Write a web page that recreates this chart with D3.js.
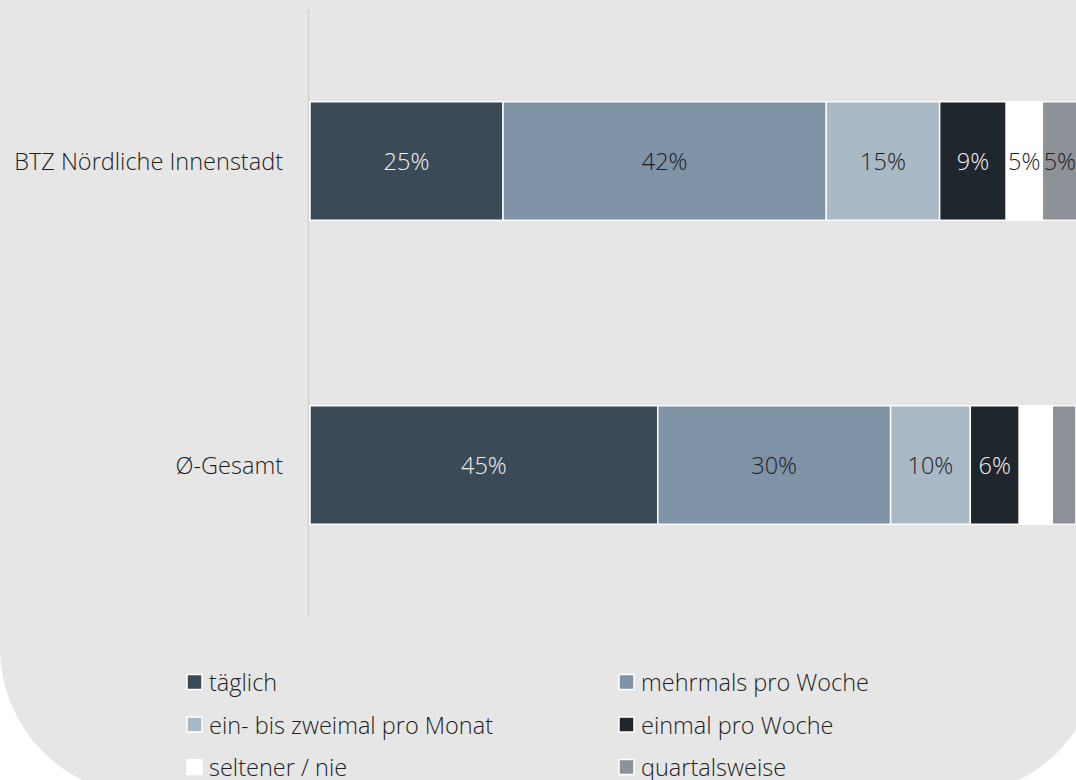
<!DOCTYPE html>
<html>
<head>
<meta charset="utf-8">
<script src="https://cdn.jsdelivr.net/npm/d3@7"></script>
<style>
  body { margin: 0; background: #ffffff; }
  svg { display: block; font-family: "Open Sans", sans-serif; font-weight: 300; }
</style>
</head>
<body>
<div id="chart"></div>
<script>
// categories (top to bottom)
var categories = ["BTZ Nördliche Innenstadt", "Ø-Gesamt"];

// answer options, in stacking order
var keys = ["täglich", "mehrmals pro Woche", "ein- bis zweimal pro Monat",
            "einmal pro Woche", "seltener / nie", "quartalsweise"];

// shares in percent, one array per category
var valuesBTZ = [25.2, 42.2, 14.8, 8.7, 4.7, 4.6];
var valuesGesamt = [45.4, 30.4, 10.4, 6.4, 4.3, 3.1];

var colors = ["#3b4a57", "#7e93a5", "#a9b8c5", "#1f262d", "#ffffff", "#8d9298"];
var labelColors = ["#f2f2f2", "#1e1e1e", "#1e1e1e", "#f2f2f2", "#1e1e1e", "#1e1e1e"];

function init() {
    var w = 1076;
    var h = 780;

    // build rows for d3.stack
    var allValues = [valuesBTZ, valuesGesamt];
    var dataset = categories.map(function(c, i) {
        var row = { category: c };
        keys.forEach(function(k, j) { row[k] = allValues[i][j]; });
        return row;
    });

    var svg = d3.select("#chart")
                .append("svg")
                .attr("width", w)
                .attr("height", h);

    // grey card with big rounded corners
    svg.append("rect")
        .attr("x", 0)
        .attr("y", -300)
        .attr("width", 1101)
        .attr("height", 1095)
        .attr("rx", 147)
        .attr("ry", 147)
        .attr("fill", "#e6e6e6");

    var xScale = d3.scaleLinear()
                    .domain([0, 100])
                    .range([310, 1076]);

    var yScale = d3.scaleBand()
                    .domain(categories)
                    .range([9, 617])
                    .paddingInner(0.61)
                    .paddingOuter(0.305);

    var stack = d3.stack().keys(keys);
    var series = stack(dataset);

    // vertical axis line
    svg.append("line")
        .attr("x1", 308.5).attr("x2", 308.5)
        .attr("y1", yScale.range()[0]).attr("y2", yScale.range()[1])
        .attr("stroke", "#d4d4d4")
        .attr("stroke-width", 1.5);

    var groups = svg.selectAll("g.series")
                    .data(series)
                    .enter()
                    .append("g")
                    .attr("class", "series")
                    .style("fill", function(d, i) { return colors[i]; });

    groups.selectAll("rect")
        .data(function(d) { return d; })
        .enter()
        .append("rect")
        .attr("x", function(d) { return xScale(d[0]); })
        .attr("y", function(d) { return yScale(d.data.category); })
        .attr("width", function(d) { return xScale(d[1]) - xScale(d[0]); })
        .attr("height", yScale.bandwidth())
        .attr("stroke", "#ffffff")
        .attr("stroke-width", 1.5);

    // value labels
    groups.each(function(s, si) {
        d3.select(this).selectAll("text")
            .data(s.filter(function(d) { return d[1] - d[0] >= 4.5; }))
            .enter()
            .append("text")
            .attr("x", function(d) { return (xScale(d[0]) + xScale(d[1])) / 2; })
            .attr("y", function(d) { return yScale(d.data.category) + yScale.bandwidth() / 2; })
            .attr("text-anchor", "middle")
            .attr("dominant-baseline", "central")
            .style("font-size", "23.5px")
            .style("fill", labelColors[si])
            .text(function(d) { return Math.round(d[1] - d[0]) + "%"; });
    });

    // category labels
    svg.selectAll("text.cat")
        .data(categories)
        .enter()
        .append("text")
        .attr("class", "cat")
        .attr("x", 283)
        .attr("y", function(d) { return yScale(d) + yScale.bandwidth() / 2; })
        .attr("text-anchor", "end")
        .attr("dominant-baseline", "central")
        .style("font-size", "23.5px")
        .style("fill", "#1e1e1e")
        .text(function(d) { return d; });

    // legend, two columns
    var legend = svg.selectAll("g.legend")
                    .data(keys)
                    .enter()
                    .append("g")
                    .attr("class", "legend")
                    .attr("transform", function(d, i) {
                        var col = i % 2, row = Math.floor(i / 2);
                        return "translate(" + (187 + col * 432) + "," + (682 + row * 42.5) + ")";
                    });

    legend.append("rect")
        .attr("x", 0)
        .attr("y", -7.5)
        .attr("width", 15)
        .attr("height", 15)
        .attr("fill", function(d, i) { return colors[i]; })
        .attr("stroke", "#ffffff")
        .attr("stroke-width", 1.5);

    legend.append("text")
        .attr("x", 22)
        .attr("y", 0)
        .attr("dominant-baseline", "central")
        .style("font-size", "23.5px")
        .style("fill", "#1e1e1e")
        .text(function(d) { return d; });
}

window.onload = init;
</script>
</body>
</html>
